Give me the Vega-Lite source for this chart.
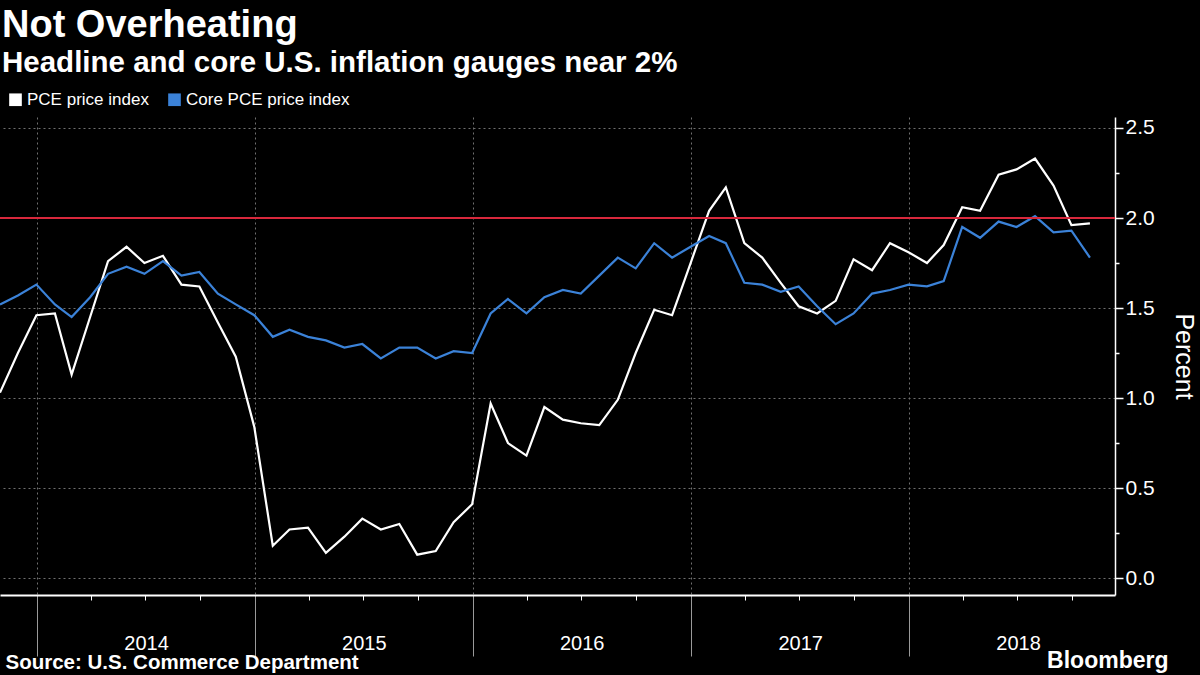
{
  "$schema": "https://vega.github.io/schema/vega-lite/v6.json",
  "width": 1115,
  "height": 478,
  "autosize": {"type": "none"},
  "padding": {"left": 0, "top": 117, "right": 85, "bottom": 80},
  "background": "#000000",
  "config": {"font": "Liberation Sans", "view": {"stroke": null}},
  "title": {
    "text": "Not Overheating",
    "subtitle": "Headline and core U.S. inflation gauges near 2%",
    "anchor": "start",
    "frame": "group",
    "color": "#ffffff",
    "subtitleColor": "#ffffff",
    "font": "Liberation Sans",
    "subtitleFont": "Liberation Sans",
    "fontSize": 38,
    "subtitleFontSize": 29.5,
    "fontWeight": "bold",
    "subtitleFontWeight": "bold",
    "offset": 14,
    "subtitlePadding": 4,
    "dx": 2
  },
  "datasets": {
    "rows": [
      {"date": "2013-10-31", "series": "PCE price index", "value": 1.03},
      {"date": "2013-11-30", "series": "PCE price index", "value": 1.25},
      {"date": "2013-12-31", "series": "PCE price index", "value": 1.46},
      {"date": "2014-01-31", "series": "PCE price index", "value": 1.47},
      {"date": "2014-02-28", "series": "PCE price index", "value": 1.13},
      {"date": "2014-03-31", "series": "PCE price index", "value": 1.45},
      {"date": "2014-04-30", "series": "PCE price index", "value": 1.76},
      {"date": "2014-05-31", "series": "PCE price index", "value": 1.84},
      {"date": "2014-06-30", "series": "PCE price index", "value": 1.75},
      {"date": "2014-07-31", "series": "PCE price index", "value": 1.79},
      {"date": "2014-08-31", "series": "PCE price index", "value": 1.63},
      {"date": "2014-09-30", "series": "PCE price index", "value": 1.62},
      {"date": "2014-10-31", "series": "PCE price index", "value": 1.42},
      {"date": "2014-11-30", "series": "PCE price index", "value": 1.23},
      {"date": "2014-12-31", "series": "PCE price index", "value": 0.84},
      {"date": "2015-01-31", "series": "PCE price index", "value": 0.18},
      {"date": "2015-02-28", "series": "PCE price index", "value": 0.27},
      {"date": "2015-03-31", "series": "PCE price index", "value": 0.28},
      {"date": "2015-04-30", "series": "PCE price index", "value": 0.14},
      {"date": "2015-05-31", "series": "PCE price index", "value": 0.23},
      {"date": "2015-06-30", "series": "PCE price index", "value": 0.33},
      {"date": "2015-07-31", "series": "PCE price index", "value": 0.27},
      {"date": "2015-08-31", "series": "PCE price index", "value": 0.30},
      {"date": "2015-09-30", "series": "PCE price index", "value": 0.13},
      {"date": "2015-10-31", "series": "PCE price index", "value": 0.15},
      {"date": "2015-11-30", "series": "PCE price index", "value": 0.31},
      {"date": "2015-12-31", "series": "PCE price index", "value": 0.41},
      {"date": "2016-01-31", "series": "PCE price index", "value": 0.97},
      {"date": "2016-02-29", "series": "PCE price index", "value": 0.75},
      {"date": "2016-03-31", "series": "PCE price index", "value": 0.68},
      {"date": "2016-04-30", "series": "PCE price index", "value": 0.95},
      {"date": "2016-05-31", "series": "PCE price index", "value": 0.88},
      {"date": "2016-06-30", "series": "PCE price index", "value": 0.86},
      {"date": "2016-07-31", "series": "PCE price index", "value": 0.85},
      {"date": "2016-08-31", "series": "PCE price index", "value": 0.99},
      {"date": "2016-09-30", "series": "PCE price index", "value": 1.25},
      {"date": "2016-10-31", "series": "PCE price index", "value": 1.49},
      {"date": "2016-11-30", "series": "PCE price index", "value": 1.46},
      {"date": "2016-12-31", "series": "PCE price index", "value": 1.75},
      {"date": "2017-01-31", "series": "PCE price index", "value": 2.04},
      {"date": "2017-02-28", "series": "PCE price index", "value": 2.17},
      {"date": "2017-03-31", "series": "PCE price index", "value": 1.86},
      {"date": "2017-04-30", "series": "PCE price index", "value": 1.78},
      {"date": "2017-05-31", "series": "PCE price index", "value": 1.64},
      {"date": "2017-06-30", "series": "PCE price index", "value": 1.51},
      {"date": "2017-07-31", "series": "PCE price index", "value": 1.47},
      {"date": "2017-08-31", "series": "PCE price index", "value": 1.54},
      {"date": "2017-09-30", "series": "PCE price index", "value": 1.77},
      {"date": "2017-10-31", "series": "PCE price index", "value": 1.71},
      {"date": "2017-11-30", "series": "PCE price index", "value": 1.86},
      {"date": "2017-12-31", "series": "PCE price index", "value": 1.81},
      {"date": "2018-01-31", "series": "PCE price index", "value": 1.75},
      {"date": "2018-02-28", "series": "PCE price index", "value": 1.85},
      {"date": "2018-03-31", "series": "PCE price index", "value": 2.06},
      {"date": "2018-04-30", "series": "PCE price index", "value": 2.04},
      {"date": "2018-05-31", "series": "PCE price index", "value": 2.24},
      {"date": "2018-06-30", "series": "PCE price index", "value": 2.27},
      {"date": "2018-07-31", "series": "PCE price index", "value": 2.33},
      {"date": "2018-08-31", "series": "PCE price index", "value": 2.18},
      {"date": "2018-09-30", "series": "PCE price index", "value": 1.96},
      {"date": "2018-10-31", "series": "PCE price index", "value": 1.97},
      {"date": "2013-10-31", "series": "Core PCE price index", "value": 1.52},
      {"date": "2013-11-30", "series": "Core PCE price index", "value": 1.57},
      {"date": "2013-12-31", "series": "Core PCE price index", "value": 1.63},
      {"date": "2014-01-31", "series": "Core PCE price index", "value": 1.52},
      {"date": "2014-02-28", "series": "Core PCE price index", "value": 1.45},
      {"date": "2014-03-31", "series": "Core PCE price index", "value": 1.56},
      {"date": "2014-04-30", "series": "Core PCE price index", "value": 1.69},
      {"date": "2014-05-31", "series": "Core PCE price index", "value": 1.73},
      {"date": "2014-06-30", "series": "Core PCE price index", "value": 1.69},
      {"date": "2014-07-31", "series": "Core PCE price index", "value": 1.76},
      {"date": "2014-08-31", "series": "Core PCE price index", "value": 1.68},
      {"date": "2014-09-30", "series": "Core PCE price index", "value": 1.70},
      {"date": "2014-10-31", "series": "Core PCE price index", "value": 1.58},
      {"date": "2014-11-30", "series": "Core PCE price index", "value": 1.52},
      {"date": "2014-12-31", "series": "Core PCE price index", "value": 1.46},
      {"date": "2015-01-31", "series": "Core PCE price index", "value": 1.34},
      {"date": "2015-02-28", "series": "Core PCE price index", "value": 1.38},
      {"date": "2015-03-31", "series": "Core PCE price index", "value": 1.34},
      {"date": "2015-04-30", "series": "Core PCE price index", "value": 1.32},
      {"date": "2015-05-31", "series": "Core PCE price index", "value": 1.28},
      {"date": "2015-06-30", "series": "Core PCE price index", "value": 1.30},
      {"date": "2015-07-31", "series": "Core PCE price index", "value": 1.22},
      {"date": "2015-08-31", "series": "Core PCE price index", "value": 1.28},
      {"date": "2015-09-30", "series": "Core PCE price index", "value": 1.28},
      {"date": "2015-10-31", "series": "Core PCE price index", "value": 1.22},
      {"date": "2015-11-30", "series": "Core PCE price index", "value": 1.26},
      {"date": "2015-12-31", "series": "Core PCE price index", "value": 1.25},
      {"date": "2016-01-31", "series": "Core PCE price index", "value": 1.47},
      {"date": "2016-02-29", "series": "Core PCE price index", "value": 1.55},
      {"date": "2016-03-31", "series": "Core PCE price index", "value": 1.47},
      {"date": "2016-04-30", "series": "Core PCE price index", "value": 1.56},
      {"date": "2016-05-31", "series": "Core PCE price index", "value": 1.60},
      {"date": "2016-06-30", "series": "Core PCE price index", "value": 1.58},
      {"date": "2016-07-31", "series": "Core PCE price index", "value": 1.68},
      {"date": "2016-08-31", "series": "Core PCE price index", "value": 1.78},
      {"date": "2016-09-30", "series": "Core PCE price index", "value": 1.72},
      {"date": "2016-10-31", "series": "Core PCE price index", "value": 1.86},
      {"date": "2016-11-30", "series": "Core PCE price index", "value": 1.78},
      {"date": "2016-12-31", "series": "Core PCE price index", "value": 1.84},
      {"date": "2017-01-31", "series": "Core PCE price index", "value": 1.90},
      {"date": "2017-02-28", "series": "Core PCE price index", "value": 1.86},
      {"date": "2017-03-31", "series": "Core PCE price index", "value": 1.64},
      {"date": "2017-04-30", "series": "Core PCE price index", "value": 1.63},
      {"date": "2017-05-31", "series": "Core PCE price index", "value": 1.59},
      {"date": "2017-06-30", "series": "Core PCE price index", "value": 1.62},
      {"date": "2017-07-31", "series": "Core PCE price index", "value": 1.51},
      {"date": "2017-08-31", "series": "Core PCE price index", "value": 1.41},
      {"date": "2017-09-30", "series": "Core PCE price index", "value": 1.47},
      {"date": "2017-10-31", "series": "Core PCE price index", "value": 1.58},
      {"date": "2017-11-30", "series": "Core PCE price index", "value": 1.60},
      {"date": "2017-12-31", "series": "Core PCE price index", "value": 1.63},
      {"date": "2018-01-31", "series": "Core PCE price index", "value": 1.62},
      {"date": "2018-02-28", "series": "Core PCE price index", "value": 1.65},
      {"date": "2018-03-31", "series": "Core PCE price index", "value": 1.95},
      {"date": "2018-04-30", "series": "Core PCE price index", "value": 1.89},
      {"date": "2018-05-31", "series": "Core PCE price index", "value": 1.98},
      {"date": "2018-06-30", "series": "Core PCE price index", "value": 1.95},
      {"date": "2018-07-31", "series": "Core PCE price index", "value": 2.01},
      {"date": "2018-08-31", "series": "Core PCE price index", "value": 1.92},
      {"date": "2018-09-30", "series": "Core PCE price index", "value": 1.93},
      {"date": "2018-10-31", "series": "Core PCE price index", "value": 1.78}
    ]
  },
  "data": {"name": "rows"},
  "layer": [
    {
      "mark": {"type": "line", "strokeWidth": 2.2},
      "encoding": {
        "x": {
          "field": "date",
          "type": "temporal",
          "scale": {"domain": [{"year": 2013, "month": 10, "date": 31}, {"year": 2018, "month": 12, "date": 12}]},
          "axis": {
            "orient": "bottom",
            "title": "Source: U.S. Commerce Department",
            "titleColor": "#ffffff",
            "titleFontSize": 20.5,
            "titleFontWeight": "bold",
            "titleAnchor": "start",
            "titleAlign": "left",
            "titleBaseline": "middle",
            "titleX": 5,
            "titleY": 67,
            "tickCount": {"interval": "month", "step": 3},
            "domainColor": "#ffffff",
            "domainWidth": 2,
            "tickColor": {"condition": {"test": "month(datum.value)==0", "value": "#9a9a9a"}, "value": "#ffffff"},
            "tickSize": {"condition": {"test": "month(datum.value)==0", "value": 61}, "value": 5},
            "tickWidth": 1,
            "grid": true,
            "gridColor": "#707070",
            "gridDash": [2, 3],
            "gridOpacity": {"condition": {"test": "month(datum.value)==0", "value": 1}, "value": 0},
            "labelExpr": "month(datum.value)==0 ? timeFormat(datum.value,'%Y') : ''",
            "labelOffset": 109,
            "labelAlign": "center",
            "labelBaseline": "top",
            "labelPadding": -23,
            "labelFontSize": 20,
            "labelColor": "#ffffff",
            "labelOverlap": false,
            "labelFlush": false,
            "labelBound": false
          }
        },
        "y": {
          "field": "value",
          "type": "quantitative",
          "scale": {"domain": [-0.094, 2.561], "nice": false, "zero": false},
          "axis": {
            "orient": "right",
            "values": [0, 0.25, 0.5, 0.75, 1, 1.25, 1.5, 1.75, 2, 2.25, 2.5],
            "title": "Percent",
            "titleColor": "#ffffff",
            "titleFontSize": 25,
            "titleFontWeight": "normal",
            "titleAngle": 90,
            "titlePadding": 16,
            "domainColor": "#ffffff",
            "domainWidth": 1.5,
            "tickColor": "#ffffff",
            "tickWidth": 1.5,
            "tickSize": {"condition": {"test": "abs(datum.value*2-round(datum.value*2))<0.01", "value": 8}, "value": 4},
            "grid": true,
            "gridColor": "#707070",
            "gridDash": [2, 3],
            "gridOpacity": {"condition": {"test": "abs(datum.value*2-round(datum.value*2))<0.01", "value": 1}, "value": 0},
            "labelExpr": "abs(datum.value*2-round(datum.value*2))<0.01 ? format(datum.value,'.1f') : ''",
            "labelFontSize": 21,
            "labelColor": "#ffffff",
            "labelPadding": 2,
            "labelOverlap": false,
            "labelBound": false,
            "labelFlush": false
          }
        },
        "color": {
          "field": "series",
          "type": "nominal",
          "scale": {"domain": ["PCE price index", "Core PCE price index"], "range": ["#ffffff", "#3b82d8"]},
          "legend": {
            "title": null,
            "orient": "none",
            "direction": "horizontal",
            "legendX": 7,
            "legendY": -26,
            "symbolType": "square",
            "symbolSize": 160,
            "symbolStrokeWidth": 0,
            "labelFontSize": 17,
            "labelLimit": 400,
            "labelColor": "#ffffff",
            "labelOffset": 3,
            "columnPadding": 17,
            "encode": {"symbols": {"update": {"fill": {"scale": "color", "field": "value"}, "fillOpacity": {"value": 1}}}}
          }
        }
      }
    },
    {
      "mark": {"type": "rule", "color": "#d8283c", "strokeWidth": 2},
      "encoding": {"y": {"datum": 2, "type": "quantitative"}}
    },
    {
      "mark": {"type": "point", "opacity": 0},
      "encoding": {
        "x": {
          "field": "date",
          "type": "temporal",
          "axis": {
            "orient": "bottom",
            "domain": false,
            "ticks": false,
            "labels": false,
            "grid": false,
            "title": "Bloomberg",
            "titleColor": "#ffffff",
            "titleFontSize": 23,
            "titleFontWeight": "bold",
            "titleAlign": "right",
            "titleAnchor": "start",
            "titleBaseline": "middle",
            "titleX": 1168,
            "titleY": 65
          }
        }
      }
    }
  ],
  "resolve": {"axis": {"x": "independent"}}
}
